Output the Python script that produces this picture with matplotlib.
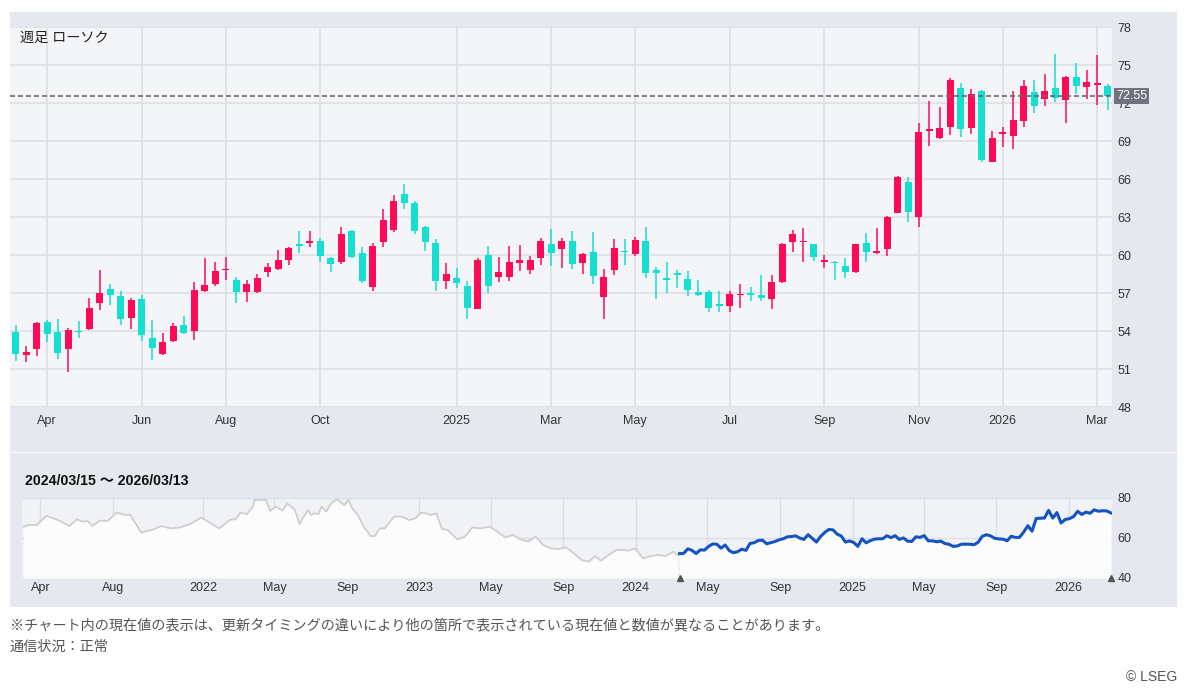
import matplotlib
matplotlib.use('Agg')
import matplotlib.pyplot as plt
import matplotlib.transforms as mtransforms
from matplotlib.patches import Rectangle
import numpy as np
import pandas as pd

plt.rcParams['font.family'] = ['Liberation Sans', 'Noto Sans CJK JP', 'DejaVu Sans']

W, H = 1200, 699
RED = '#ff0a57'
CYAN = '#14dfd0'

# weekly candles, 2024/03/15 - 2026/03/13
week_end = pd.date_range('2024-03-15', '2026-03-13', freq='W-FRI')
opens = [53.92, 52.09, 52.56, 54.73, 53.92, 52.56, 54.00, 54.13, 56.21, 57.31,
         56.79, 54.99, 56.53, 53.45, 52.17, 53.21, 54.47, 53.99, 57.13, 57.73,
         58.82, 58.03, 57.11, 57.11, 58.63, 58.89, 59.61, 60.87, 60.97, 61.13,
         59.74, 59.47, 61.89, 60.13, 57.50, 61.00, 61.97, 64.82, 64.08, 62.18,
         60.97, 57.95, 58.21, 57.55, 55.74, 60.00, 58.24, 58.24, 59.39, 58.82,
         59.79, 60.87, 60.45, 61.13, 59.39, 60.26, 56.66, 58.82, 60.30, 60.05,
         61.13, 58.82, 58.16, 58.50, 58.11, 57.05, 57.11, 56.08, 56.00, 56.87,
         56.97, 56.84, 56.53, 57.84, 61.00, 61.03, 60.87, 59.47, 59.45, 59.16,
         58.68, 60.92, 60.13, 60.45, 63.34, 65.79, 63.03, 69.82, 69.26, 70.08,
         73.16, 70.05, 72.97, 67.37, 69.58, 69.39, 70.61, 72.84, 72.29, 73.21,
         72.24, 74.08, 73.29, 73.47, 73.37]
highs = [54.44, 52.82, 54.70, 54.83, 54.96, 54.23, 54.78, 56.60, 58.83, 57.70,
         57.13, 56.61, 56.87, 54.86, 53.81, 54.60, 55.17, 57.86, 59.74, 59.43,
         59.82, 58.24, 58.03, 58.50, 59.34, 60.39, 60.62, 61.92, 61.92, 61.32,
         59.82, 62.24, 61.95, 60.66, 60.97, 63.63, 64.74, 65.61, 64.26, 62.32,
         61.26, 59.34, 59.00, 57.95, 59.74, 60.71, 59.87, 60.71, 60.79, 59.92,
         61.32, 62.03, 61.32, 61.92, 60.13, 61.79, 58.89, 61.24, 61.26, 61.45,
         62.18, 59.03, 59.47, 58.85, 58.76, 58.03, 57.24, 57.16, 57.16, 57.71,
         57.50, 58.42, 58.42, 60.92, 61.97, 62.10, 60.90, 60.00, 59.50, 59.74,
         60.90, 61.71, 62.10, 63.05, 66.24, 66.13, 70.39, 72.18, 71.71, 74.00,
         73.61, 73.10, 73.03, 69.82, 70.13, 72.97, 73.82, 73.82, 74.29, 75.87,
         74.10, 75.13, 74.61, 75.79, 73.47]
lows = [51.64, 51.57, 52.04, 53.13, 51.78, 50.78, 53.47, 54.10, 55.69, 56.08,
        54.44, 54.13, 53.21, 51.72, 52.09, 53.13, 53.79, 53.29, 57.05, 57.52,
        57.99, 56.18, 56.32, 57.03, 58.24, 58.80, 59.21, 60.13, 60.61, 59.47,
        58.63, 59.29, 59.80, 57.82, 57.18, 60.66, 61.79, 63.61, 61.63, 60.32,
        57.18, 57.29, 57.37, 54.95, 55.71, 57.03, 57.84, 57.95, 58.76, 58.50,
        59.21, 59.13, 58.95, 58.89, 58.50, 57.71, 54.95, 58.42, 59.21, 59.92,
        58.16, 56.55, 57.03, 57.42, 56.79, 56.79, 55.47, 55.47, 55.47, 55.84,
        56.37, 56.37, 55.74, 57.80, 60.21, 59.42, 59.55, 59.00, 58.03, 58.16,
        58.60, 59.42, 60.10, 59.95, 63.29, 62.63, 62.24, 68.63, 69.16, 69.47,
        69.34, 69.53, 67.32, 67.32, 68.55, 68.37, 70.13, 71.18, 71.76, 72.05,
        70.45, 72.68, 72.32, 71.84, 71.45]
closes = [52.17, 52.32, 54.60, 53.79, 52.25, 54.07, 53.94, 55.80, 57.00, 56.87,
          54.91, 56.48, 53.66, 52.64, 53.16, 54.39, 53.81, 57.26, 57.65, 58.77,
          58.90, 57.11, 57.68, 58.21, 59.08, 59.61, 60.58, 60.71, 61.05, 59.95,
          59.29, 61.66, 59.82, 57.95, 60.74, 62.76, 64.26, 64.08, 61.92, 61.00,
          57.97, 58.50, 57.76, 55.79, 59.61, 57.58, 58.68, 59.42, 59.61, 59.61,
          61.13, 60.18, 61.13, 59.29, 60.05, 58.37, 58.29, 60.58, 60.28, 61.18,
          58.55, 58.56, 58.10, 58.45, 57.24, 56.84, 55.79, 56.03, 56.89, 56.92,
          56.89, 56.63, 57.84, 60.87, 61.63, 61.08, 59.82, 59.55, 59.39, 58.63,
          60.87, 60.26, 60.34, 63.03, 66.13, 63.42, 69.74, 69.89, 70.00, 73.82,
          69.95, 72.68, 67.50, 69.26, 69.66, 70.66, 73.34, 71.76, 72.95, 72.37,
          74.08, 73.37, 73.63, 73.53, 72.55]
last_price = 72.55

main_tick_months = ['2024-04-01', '2024-06-01', '2024-08-01', '2024-10-01', '2025-01-01',
                    '2025-03-01', '2025-05-01', '2025-07-01', '2025-09-01', '2025-11-01',
                    '2026-01-01', '2026-03-01']
main_tick_labels = ['Apr', 'Jun', 'Aug', 'Oct', '2025', 'Mar', 'May', 'Jul', 'Sep', 'Nov',
                    '2026', 'Mar']

# longer history shown in the navigator (before the selected range)
hist_years = [2021.169, 2021.195, 2021.230, 2021.274, 2021.328, 2021.381, 2021.416, 2021.443,
              2021.466, 2021.486, 2021.522, 2021.557, 2021.601, 2021.637, 2021.663, 2021.713,
              2021.770, 2021.805, 2021.849, 2021.893, 2021.946, 2021.990, 2022.031, 2022.073,
              2022.123, 2022.150, 2022.172, 2022.202, 2022.229, 2022.238, 2022.291, 2022.309,
              2022.335, 2022.367, 2022.388, 2022.424, 2022.445, 2022.459, 2022.485, 2022.498,
              2022.515, 2022.533, 2022.547, 2022.569, 2022.591, 2022.618, 2022.653, 2022.671,
              2022.689, 2022.715, 2022.742, 2022.774, 2022.794, 2022.816, 2022.839, 2022.883,
              2022.918, 2022.950, 2022.980, 2023.007, 2023.033, 2023.051, 2023.078, 2023.104,
              2023.131, 2023.175, 2023.210, 2023.245, 2023.281, 2023.325, 2023.360, 2023.396,
              2023.431, 2023.467, 2023.502, 2023.537, 2023.572, 2023.608, 2023.643, 2023.679,
              2023.714, 2023.749, 2023.784, 2023.812, 2023.838, 2023.874, 2023.910, 2023.936,
              2023.962, 2023.998, 2024.033, 2024.068, 2024.104, 2024.139, 2024.175, 2024.192]
hist_values = [65.7, 66.5, 66.5, 71.0, 69.0, 66.0, 69.3, 68.2, 68.5, 66.0, 68.7, 68.5,
               72.7, 71.5, 71.5, 62.7, 64.3, 66.0, 64.8, 65.3, 67.3, 70.2, 67.7, 64.8,
               69.0, 69.5, 72.7, 72.0, 75.7, 79.0, 79.0, 73.5, 75.7, 73.7, 77.3, 74.0,
               67.0, 69.8, 74.0, 71.5, 72.3, 72.0, 75.7, 73.2, 77.3, 79.3, 76.5, 79.0,
               74.8, 71.5, 65.7, 61.0, 61.0, 64.8, 64.8, 70.7, 70.7, 69.0, 69.8, 72.7,
               72.3, 71.5, 72.3, 64.5, 64.0, 59.3, 60.7, 65.3, 64.8, 65.7, 63.2, 60.3,
               61.5, 59.3, 58.2, 60.7, 56.5, 54.8, 54.5, 55.3, 52.3, 49.0, 48.2, 51.0,
               48.7, 51.5, 54.0, 54.0, 53.7, 54.7, 49.8, 51.0, 51.5, 51.0, 53.2, 51.5]

nav_tick_dates = ['2021-04-01', '2021-08-01', '2022-01-01', '2022-05-01', '2022-09-01',
                  '2023-01-01', '2023-05-01', '2023-09-01', '2024-01-01', '2024-05-01',
                  '2024-09-01', '2025-01-01', '2025-05-01', '2025-09-01', '2026-01-01']
nav_tick_labels = ['Apr', 'Aug', '2022', 'May', 'Sep', '2023', 'May', 'Sep', '2024', 'May',
                   'Sep', '2025', 'May', 'Sep', '2026']


def box(x0, y0, x1, y1):
    return [x0 / W, 1 - y1 / H, (x1 - x0) / W, (y1 - y0) / H]


fig = plt.figure(figsize=(W / 100, H / 100), dpi=100)
fig.patch.set_facecolor('white')

# panel backgrounds
for x0, y0, x1, y1 in [(10, 12, 1177, 452), (10, 453, 1177, 607)]:
    fig.add_artist(Rectangle((x0 / W, 1 - y1 / H), (x1 - x0) / W, (y1 - y0) / H,
                             transform=fig.transFigure, facecolor='#e6e8f0',
                             edgecolor='none', zorder=0))

# ---- main candlestick chart
ax = fig.add_axes(box(10, 27, 1112, 407))
ax.set_facecolor('#f4f5f8')
o = np.array(opens)
c = np.array(closes)
idx = np.arange(len(c))
cols = np.where(c >= o, RED, CYAN)
ax.vlines(idx, lows, highs, colors=cols, lw=1.1, zorder=3)
body_h = np.maximum(np.abs(c - o), 0.13)
ax.bar(idx, body_h, bottom=(o + c) / 2 - body_h / 2, width=0.68, color=cols, lw=0, zorder=4)

tick_pos = [np.ceil((pd.Timestamp(m) - week_end[0]).days / 7) for m in main_tick_months]
ax.set_xticks(tick_pos)
ax.set_xticklabels(main_tick_labels)
ax.set_xlim(-0.54, 104.4)
ax.set_ylim(48, 78)
ax.set_yticks(np.arange(48, 79, 3))
ax.yaxis.tick_right()
ax.grid(True, color='#dcdee7', lw=1.2, zorder=0)
ax.set_axisbelow(True)
for s in ax.spines.values():
    s.set_visible(False)
ax.tick_params(axis='both', length=0, labelsize=9, colors='#333333')
ax.tick_params(axis='y', pad=4)
ax.tick_params(axis='x', pad=6)

ax.axhline(last_price, color='#6a6a6a', lw=1.2, ls=(0, (3, 1.8)), zorder=5)
trans = mtransforms.blended_transform_factory(ax.transAxes, ax.transData)
ax.text(1.0035, last_price, f'{last_price:.2f}', transform=trans, ha='left', va='center',
        fontsize=9, color='white', zorder=10, clip_on=False,
        bbox=dict(boxstyle='square,pad=0.18', facecolor='#70737d', edgecolor='none'))

fig.text(20 / W, 1 - 38 / H, '週足 ローソク', fontsize=10.2, color='#222222', va='center')

# ---- navigator
fig.text(25 / W, 1 - 481 / H, '2024/03/15 ～ 2026/03/13', fontsize=10.2, fontweight='bold',
         color='#111111', va='center')
nav = fig.add_axes(box(22, 498, 1112, 578))
nav.set_facecolor('#f1f2f6')
hist_dates = [pd.Timestamp(int(y), 1, 1) + pd.Timedelta(days=(y - int(y)) * 365) for y in hist_years]
nav.fill_between(hist_dates, hist_values, 40, color='#fcfcfd', lw=0, zorder=1)
nav.fill_between(week_end, closes, 40, color='#fcfcfd', lw=0, zorder=1)
nav.plot(hist_dates, hist_values, color='#cfcfcf', lw=1.3, zorder=3)
nav.plot(week_end, closes, color='#1554c0', lw=2.2, zorder=4)
nav.plot([week_end[0], week_end[-1]], [40, 40], ls='none', marker='^', ms=5,
         color='#555555', clip_on=False, zorder=6)
nav.set_xlim(pd.Timestamp('2021-03-01'), pd.Timestamp('2026-03-15'))
nav.set_ylim(40, 80)
nav.set_yticks([40, 60, 80])
nav.yaxis.tick_right()
nav.set_xticks([pd.Timestamp(d) for d in nav_tick_dates])
nav.set_xticklabels(nav_tick_labels)
nav.grid(True, color='#dcdee7', lw=1.0, zorder=0)
nav.set_axisbelow(True)
for s in nav.spines.values():
    s.set_visible(False)
nav.tick_params(axis='both', length=0, labelsize=9, colors='#333333')
nav.tick_params(axis='y', pad=4)
nav.tick_params(axis='x', pad=3)

# ---- footer
fig.text(10 / W, 1 - 625 / H,
         '※チャート内の現在値の表示は、更新タイミングの違いにより他の箇所で表示されている現在値と数値が異なることがあります。',
         fontsize=10.2, color='#555555', va='center')
fig.text(10 / W, 1 - 647 / H, '通信状況：正常', fontsize=10.2, color='#555555', va='center')
fig.text(1177 / W, 1 - 677 / H, '© LSEG', fontsize=10, color='#555555', va='center', ha='right')

fig.savefig('out.png', dpi=100)
plt.close()
